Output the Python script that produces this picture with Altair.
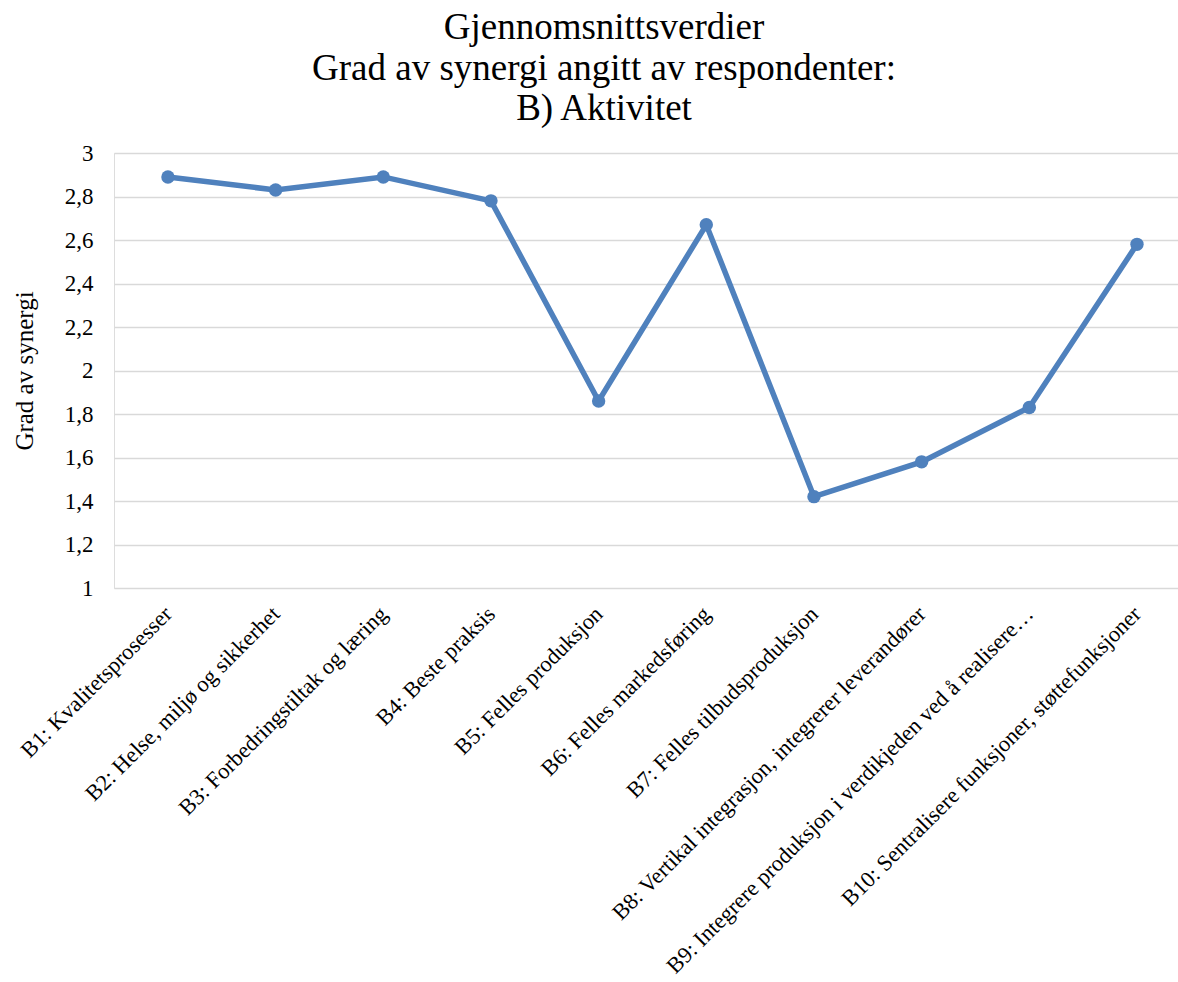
import altair as alt
import pandas as pd

# Average synergy score per activity area
categories = [
    "B1: Kvalitetsprosesser",
    "B2: Helse, miljø og sikkerhet",
    "B3: Forbedringstiltak og læring",
    "B4: Beste praksis",
    "B5: Felles produksjon",
    "B6: Felles markedsføring",
    "B7: Felles tilbudsproduksjon",
    "B8: Vertikal integrasjon, integrerer leverandører",
    "B9: Integrere produksjon i verdikjeden ved å realisere…",
    "B10: Sentralisere funksjoner, støttefunksjoner",
]
values = [2.89, 2.83, 2.89, 2.78, 1.86, 2.67, 1.42, 1.58, 1.83, 2.58]
y_ticks = [1.0, 1.2, 1.4, 1.6, 1.8, 2.0, 2.2, 2.4, 2.6, 2.8, 3.0]
title_lines = ["Gjennomsnittsverdier", "Grad av synergi angitt av respondenter:", "B) Aktivitet"]

df = pd.DataFrame({"aktivitet": categories, "verdi": values})

FONT = "Liberation Serif"
BLUE = "#4F81BD"

x = alt.X(
    "aktivitet:N",
    sort=None,
    scale=alt.Scale(type="point", padding=0.441, align=0.568),
    axis=alt.Axis(
        title=None,
        labelAngle=-45,
        labelAlign="right",
        labelBaseline="middle",
        labelFontSize=22.5,
        labelFont=FONT,
        labelColor="#000000",
        labelPadding=22,
        labelLimit=0,
        domain=False,
        ticks=False,
        grid=False,
    ),
)
y = alt.Y(
    "verdi:Q",
    scale=alt.Scale(domain=[1, 3], nice=False, zero=False),
    axis=alt.Axis(
        title="Grad av synergi",
        titleFont=FONT,
        titleFontSize=25,
        titleFontWeight="normal",
        titleColor="#000000",
        titleX=-77,
        values=y_ticks,
        labelExpr="replace(format(datum.value, '.1~f'), '.', ',')",
        labelFont=FONT,
        labelFontSize=23,
        labelColor="#000000",
        labelPadding=21,
        domain=False,
        ticks=False,
        grid=True,
        gridColor="#D9D9D9",
        gridWidth=1.5,
    ),
)

base = alt.Chart(df).encode(x=x, y=y)
line = base.mark_line(color=BLUE, strokeWidth=5.5)
points = base.mark_circle(color=BLUE, size=180, opacity=1)

chart = (
    alt.layer(line, points)
    .properties(
        width=1064,
        height=435,
        autosize=alt.AutoSizeParams(type="none"),
        padding={"left": 114, "top": 153, "right": 0, "bottom": 394},
        title=alt.TitleParams(
            text=title_lines[0],
            subtitle=title_lines[1:],
            font=FONT,
            fontSize=37,
            fontWeight="normal",
            color="#000000",
            subtitleFont=FONT,
            subtitleFontSize=37,
            subtitleFontWeight="normal",
            subtitleColor="#000000",
            subtitleLineHeight=40,
            subtitlePadding=4,
            anchor="middle",
            frame="group",
            dx=-42,
            offset=14,
        ),
    )
    .configure_view(stroke=None)
    .configure(background="#FFFFFF")
)

chart.save("out.html", embed_options={"renderer": "svg", "actions": False})
